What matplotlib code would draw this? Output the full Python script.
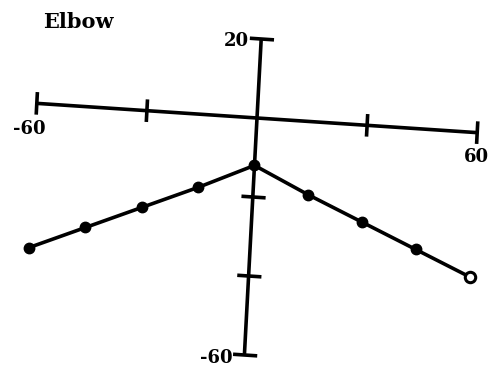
import matplotlib.pyplot as plt
from matplotlib.transforms import Affine2D

# elbow angle curve
angle = [-60, -45, -30, -15, 0, 15, 30, 45, 60]
value = [-36.5, -30.5, -24.5, -18.5, -12, -18.5, -24.5, -30.5, -36.5]

x_ticks = [-60, -30, 30, 60]
y_ticks = [20, -20, -40, -60]

fig = plt.figure(figsize=(4.93, 3.67), dpi=100)
ax = fig.add_axes([0, 0, 1, 1])
ax.set_xlim(0, 493)
ax.set_ylim(367, 0)
ax.axis("off")

# the printed axes are slightly skewed: map data units onto the page
skew = Affine2D().from_values(3.67, 0.244, 0.21, -3.95, 257, 118) + ax.transData

lw = 2.6
ax.plot([-60, 60], [0, 0], color="black", lw=lw, transform=skew, solid_capstyle="butt")
ax.plot([0, 0], [20, -60], color="black", lw=lw, transform=skew, solid_capstyle="butt")
for t in x_ticks:
    ax.plot([t, t], [-2.4, 2.4], color="black", lw=lw, transform=skew)
for t in y_ticks:
    ax.plot([-2.6, 3.0], [t, t], color="black", lw=lw, transform=skew)

ax.plot(angle[:-1], value[:-1], color="black", lw=2.6, marker="o", ms=7.5,
        transform=skew)
ax.plot(angle[-2:], value[-2:], color="black", lw=2.6, transform=skew)
ax.plot(angle[-1:], value[-1:], ls="none", marker="o", ms=7.5, mfc="white",
        mec="black", mew=2.2, transform=skew)

font = dict(family="DejaVu Serif", weight="bold", fontsize=13)
ax.annotate("20", xy=(0, 20), xycoords=skew, xytext=(-12, -2),
            textcoords="offset pixels", ha="right", va="center", **font)
ax.annotate("-60", xy=(0, -60), xycoords=skew, xytext=(-12, -3),
            textcoords="offset pixels", ha="right", va="center", **font)
ax.annotate("-60", xy=(-60, 0), xycoords=skew, xytext=(-7, -26),
            textcoords="offset pixels", ha="center", va="center", **font)
ax.annotate("60", xy=(60, 0), xycoords=skew, xytext=(-1, -24),
            textcoords="offset pixels", ha="center", va="center", **font)

ax.text(43, 22, "Elbow", family="DejaVu Serif", weight="bold", fontsize=15,
        ha="left", va="center")

fig.savefig("out.png", dpi=100)
